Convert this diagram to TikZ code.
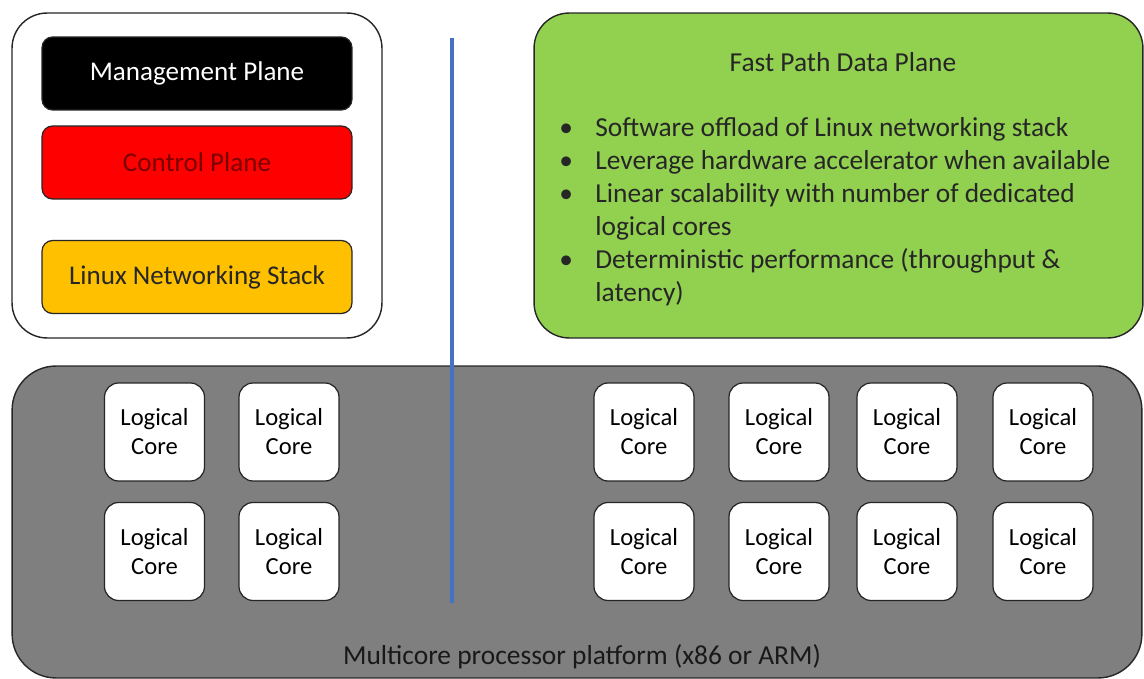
\documentclass[tikz,border=0pt]{standalone}
\usepackage{fontspec}
\setmainfont{Carlito}
\definecolor{mgmtblack}{HTML}{000000}
\definecolor{ctrlred}{HTML}{FF0000}
\definecolor{ctrltext}{HTML}{7A0000}
\definecolor{stackorange}{HTML}{FFC000}
\definecolor{fastgreen}{HTML}{92D050}
\definecolor{platgray}{HTML}{7F7F7F}
\definecolor{divblue}{HTML}{4472C4}
\newcommand{\bul}{\makebox[0.72cm][l]{\textbullet}}
\newcommand{\cont}{\hspace*{0.72cm}}

\begin{document}
\begin{tikzpicture}[x=0.02cm,y=-0.02cm,
    plane/.style={draw=black!85, line width=0.7pt, rounded corners=6pt,
      minimum width=6.2cm, minimum height=1.46cm, font=\fontsize{15.4}{18}\selectfont},
    core/.style={draw=black!85, fill=white, line width=0.7pt, rounded corners=8pt,
      minimum width=2cm, minimum height=1.96cm, align=center,
      font=\fontsize{14}{16.5}\selectfont},
    bigbox/.style={draw=black!85, line width=0.8pt, rounded corners=20pt}]
      \useasboundingbox (0,0) rectangle (1144,679);
      % left side: the slow path planes
      \node[bigbox, fill=white, minimum width=7.4cm, minimum height=6.5cm] (slowbox) at (197,175.5) {};
      \node[plane, fill=mgmtblack, text=white] (mgmt) at (197,73.5) {Management Plane};
      \node[plane, fill=ctrlred, text=ctrltext] (ctrl) at (197,162.5) {Control Plane};
      \node[plane, fill=stackorange, text=black!85] (stack) at (197,277) {Linux Networking Stack};
      % right side: fast path
      \node[bigbox, fill=fastgreen, minimum width=12.18cm, minimum height=6.5cm] (fastbox) at (838.5,175.5) {};
      \node[font=\fontsize{15.6}{18}\selectfont, text=black!85] (fptitle) at (843,62) {Fast Path Data Plane};
      \node[anchor=north west, inner sep=0pt, align=left, text=black!85,
            font=\fontsize{15.6}{18.8}\selectfont] (fplist) at (559,117)
        {\bul Software offload of Linux networking stack\\
         \bul Leverage hardware accelerator when available\\
         \bul Linear scalability with number of dedicated\\
         \cont logical cores\\
         \bul Deterministic performance (throughput \&\\
         \cont latency)};
      % platform with cores
      \node[bigbox, fill=platgray, rounded corners=25pt, minimum width=22.6cm, minimum height=6.24cm] (platform) at (577,522) {};
      \foreach \cx [count=\i] in {154.5,289,644,779,907,1043}
        \foreach \cy [count=\j] in {432,551.5}
          \node[core] (core\i\j) at (\cx,\cy) {Logical\\Core};
      \node[font=\fontsize{15.6}{18}\selectfont, text=black!90] (platlabel) at (582,657) {Multicore processor platform (x86 or ARM)};
      % divider
      \coordinate (divtop) at (452,38);
      \coordinate (divbot) at (452,603);
      \draw[divblue, line width=2.3pt] (divtop) -- (divbot);
    \end{tikzpicture}
\end{document}
